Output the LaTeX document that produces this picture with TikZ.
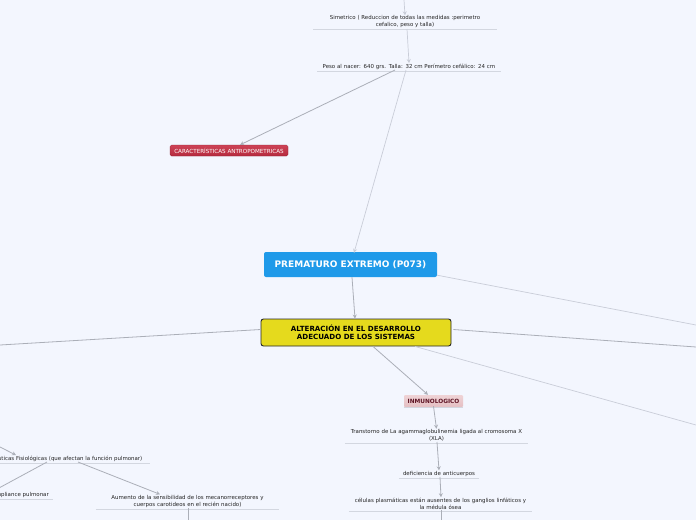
\documentclass[tikz,border=0pt]{standalone}
\usepackage{fontspec}
\setmainfont{DejaVu Sans}
\usetikzlibrary{arrows.meta,calc}
\definecolor{bgc}{HTML}{F3F6FE}
\definecolor{bluec}{HTML}{1F9AE9}
\definecolor{yelc}{HTML}{E5DA1D}
\definecolor{redc}{HTML}{B52A3E}
\definecolor{redtop}{HTML}{CD4356}
\definecolor{pinkc}{HTML}{E4BFC3}
\definecolor{pinktop}{HTML}{EFD3D6}
\definecolor{inmutext}{HTML}{5E1424}
\definecolor{linec}{HTML}{ABAFB8}
\definecolor{lightlinec}{HTML}{C9CDD8}
\definecolor{ulc}{HTML}{D3D7E0}
\definecolor{txtc}{HTML}{222222}
\tikzset{
  topic/.style={font=\fontsize{5.45}{7}\selectfont, text=txtc, align=center, inner xsep=0pt, inner ysep=1.5pt, text width=183pt},
  uline/.style={draw=ulc, line width=1pt},
  conn/.style={draw=linec, line width=0.8pt, -{Stealth[length=4pt,width=4pt]}},
  connl/.style={draw=lightlinec, line width=0.7pt, -{Stealth[length=4pt,width=4pt]}},
  plain/.style={draw=linec, line width=0.8pt},
  plainl/.style={draw=lightlinec, line width=0.7pt},
}
\begin{document}
\begin{tikzpicture}[x=1pt,y=-1pt]
\fill[bgc] (0,0) rectangle (696,520);
\useasboundingbox (0,0) rectangle (696,520);
\clip (0,0) rectangle (696,520);

% top branch
\coordinate (topin) at (404,0);
\node[topic, anchor=south] (sim) at (405,29) {Simetrico ( Reduccion de todas las medidas :perimetro\\cefalico, peso y talla)};
\draw[uline] (sim.south west) -- (sim.south east);
\node[topic, anchor=south] (peso) at (409,71) {Peso al nacer: 640 grs. Talla: 32 cm Perímetro cefálico: 24 cm};
\draw[uline] (peso.south west) -- (peso.south east);

\node[rounded corners=1.5pt, minimum width=118pt, minimum height=11pt, inner sep=0pt,
      top color=redtop, bottom color=redc, draw=redc!80!black, line width=0.3pt,
      text=white, font=\fontsize{5.6}{6}\selectfont] (carac) at (229,150.5) {CARACTERÍSTICAS ANTROPOMETRICAS};

\node[rounded corners=2pt, fill=bluec, minimum width=173pt, minimum height=25pt, inner sep=0pt,
      text=white, font=\fontsize{9}{10}\bfseries] (prem) at (350.5,264.5) {PREMATURO EXTREMO (P073)};

\node[rounded corners=2.5pt, fill=yelc, draw=black!85, line width=0.9pt, minimum width=190pt, minimum height=27pt, inner sep=0pt,
      align=center, font=\fontsize{7.1}{8}\bfseries] (alt) at (356,332.5) {ALTERACIÓN EN EL DESARROLLO\\ADECUADO DE LOS SISTEMAS};

\node[rounded corners=1pt, top color=pinktop, bottom color=pinkc, minimum width=59pt, minimum height=12pt, inner sep=0pt,
      text=inmutext, font=\fontsize{5.8}{6}\bfseries] (inmu) at (433.5,401) {INMUNOLOGICO};
\draw[uline] (inmu.south west) -- (inmu.south east);

\node[topic, anchor=south] (xla) at (436.5,443) {Transtorno de La agammaglobulinemia ligada al cromosoma X\\(XLA)};
\draw[uline] (xla.south west) -- (xla.south east);
\node[topic, text width=80pt, anchor=south] (def) at (439,478) {deficiencia de anticuerpos};
\draw[uline] (def.south west) -- (def.south east);
\node[topic, anchor=south] (cel) at (440.5,511) {células plasmáticas están ausentes de los ganglios linfáticos y\\la médula ósea};
\draw[uline] (cel.south west) -- (cel.south east);

% left branch
\node[topic, anchor=south] (fis) at (58,463) {Características Fisiológicas (que afectan la función pulmonar)};
\draw[uline] (fis.south west) -- (fis.south east);
\node[topic, text width=80pt, anchor=south east, align=right] (comp) at (53,499) {Compliance pulmonar\hspace*{4pt}};
\draw[uline] (comp.south west) -- (comp.south east);
\node[topic, anchor=south] (aum) at (187.5,509) {Aumento de la sensibilidad de los mecanorreceptores y\\cuerpos carotideos en el recién nacido)};
\draw[uline] (aum.south west) -- (aum.south east);

% outside ends
\coordinate (outR1) at (696,325);
\coordinate (outL) at (0,345);
\coordinate (outR2) at (696,347);
\coordinate (outR3) at (696,425);
\coordinate (outB1) at (441,520);
\coordinate (outB2) at (188,520);
\coordinate (inL) at (0,447);

% connectors
\draw[connl] (topin) -- ([yshift=-2pt]sim.north);
\draw[connl] ([xshift=2pt]sim.south) -- ([yshift=-1pt]peso.north);
\draw[conn] ([xshift=-14pt,yshift=1pt]peso.south) -- ([xshift=11pt]carac.north);
\draw[connl] ([xshift=-3pt,yshift=1pt]peso.south) -- ([xshift=3.5pt,yshift=-1pt]prem.north);
\draw[conn] ([xshift=1.5pt]prem.south) -- ([xshift=-1pt]alt.north);
\draw[plainl] ([yshift=2pt]prem.south east) -- (outR1);
\draw[plain] ([yshift=3pt]alt.west) -- (outL);
\draw[plain] ([xshift=2pt,yshift=3pt]alt.east) -- (outR2);
\draw[plainl] ([xshift=59pt]alt.south) -- (outR3);
\draw[conn] ([xshift=17pt]alt.south) -- ([xshift=-5.5pt]inmu.north);
\draw[conn] ([yshift=1pt]inmu.south) -- ([yshift=-1pt]xla.north);
\draw[conn] ([xshift=0.5pt,yshift=1pt]xla.south) -- ([yshift=-1pt]def.north);
\draw[conn] ([xshift=1pt,yshift=1pt]def.south) -- ([xshift=0.5pt,yshift=-1pt]cel.north);
\draw[plain] ([xshift=0.5pt,yshift=1pt]cel.south) -- (outB1);
\draw[conn] (inL) -- ([xshift=-42pt,yshift=-1pt]fis.north);
\draw[conn] ([xshift=-11pt,yshift=1pt]fis.south) -- ([xshift=-20pt,yshift=-1pt]comp.north);
\draw[conn] ([xshift=20pt,yshift=1pt]fis.south) -- ([xshift=-27.5pt,yshift=-1pt]aum.north);
\draw[plain] ([xshift=0.5pt,yshift=1pt]aum.south) -- (outB2);
\end{tikzpicture}
\end{document}
